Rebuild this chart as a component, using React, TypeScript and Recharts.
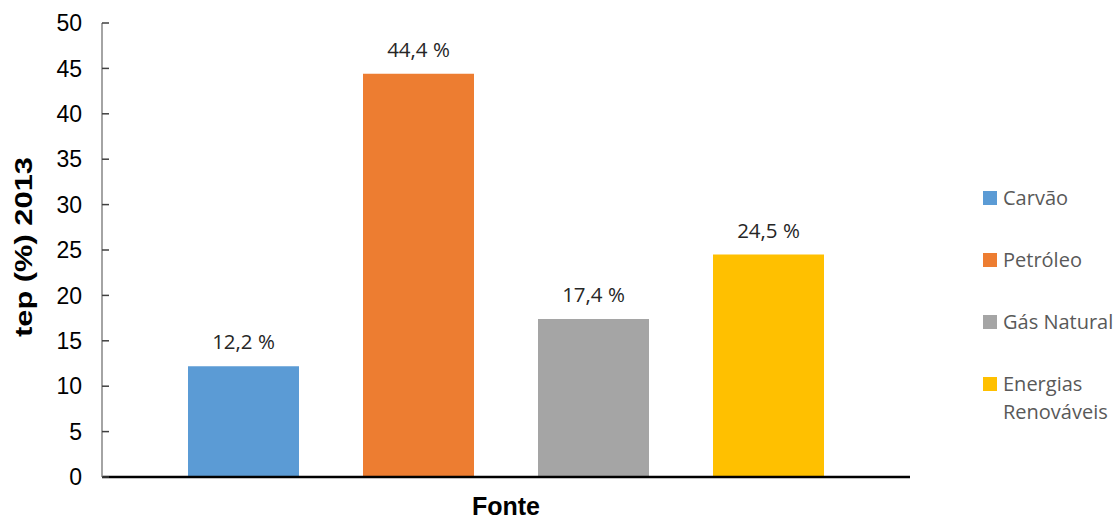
import React from "react"
import { BarChart, Bar, XAxis, YAxis, LabelList, Label } from "recharts"

const fontes = ["Carvão", "Petróleo", "Gás Natural", "Energias Renováveis"]
const valores = [12.2, 44.4, 17.4, 24.5]
const cores = ["#5B9BD5", "#ED7D31", "#A5A5A5", "#FFC000"]
const yTicks = [0, 5, 10, 15, 20, 25, 30, 35, 40, 45, 50]

// one category, one series per energy source (same as the Excel original)
const row: Record<string, number | string> = { name: "" }
fontes.forEach((_, i) => {
  row[`s${i}`] = valores[i]
})
const data = [row]

const fmt = (v: any) => `${String(v).replace(".", ",")} %`

function YLabel(props: any) {
  const vb = props.viewBox || {}
  const cx = 23
  const cy = vb.y + vb.height / 2 - 3
  return (
    <text
      x={cx}
      y={cy}
      transform={`rotate(-90, ${cx}, ${cy})`}
      textAnchor="middle"
      dominantBaseline="central"
      fontFamily="'Liberation Sans', Arial, sans-serif"
      fontWeight="bold"
      fontSize={24}
      fill="#000"
      textLength={180}
      lengthAdjust="spacingAndGlyphs"
    >
      tep (%) 2013
    </text>
  )
}

// legend drawn as plain html next to the plot
function Legenda() {
  return (
    <div
      style={{
        position: "absolute",
        left: 983,
        top: 184,
        fontFamily: "'Open Sans', sans-serif",
        fontSize: 20,
        color: "#595959",
      }}
    >
      {fontes.map((f, i) => (
        <div key={f} style={{ display: "flex", alignItems: "flex-start", marginBottom: 34 }}>
          <div style={{ width: 14, height: 14, background: cores[i], marginTop: 7, marginRight: 6, flexShrink: 0 }} />
          <div style={{ width: 118, lineHeight: "28px" }}>{f}</div>
        </div>
      ))}
    </div>
  )
}

export default function App() {
  return (
    <div style={{ position: "absolute", left: 0, top: 0, width: 1120, height: 519, background: "#fff" }}>
      <BarChart
        width={1120}
        height={519}
        data={data}
        margin={{ top: 23, right: 210, left: 0, bottom: 0 }}
        barGap={64}
      >
        <XAxis
          dataKey="name"
          height={42}
          tick={false}
          tickLine={false}
          axisLine={{ stroke: "#000", strokeWidth: 2.5 }}
        >
          <Label
            value="Fonte"
            position="insideBottom"
            offset={4}
            style={{ fontFamily: "'Liberation Sans', Arial, sans-serif", fontWeight: "bold", fontSize: 25, fill: "#000" }}
          />
        </XAxis>
        <YAxis
          width={102}
          domain={[0, 50]}
          ticks={yTicks}
          interval={0}
          tickSize={-7}
          tickMargin={27}
          axisLine={{ stroke: "#868686", strokeWidth: 1.5 }}
          tickLine={{ stroke: "#404040", strokeWidth: 1.5 }}
          tick={{ fill: "#000", fontSize: 23, fontFamily: "'Liberation Sans', Arial, sans-serif" }}
        >
          <Label content={<YLabel />} />
        </YAxis>
        {fontes.map((f, i) => (
          <Bar key={f} dataKey={`s${i}`} name={f} fill={cores[i]} barSize={111} isAnimationActive={false}>
            <LabelList
              dataKey={`s${i}`}
              position="top"
              offset={17}
              formatter={fmt}
              style={{ fill: "#262626", fontSize: 20.5, fontFamily: "'Open Sans', sans-serif" }}
            />
          </Bar>
        ))}
      </BarChart>
      <Legenda />
    </div>
  )
}
